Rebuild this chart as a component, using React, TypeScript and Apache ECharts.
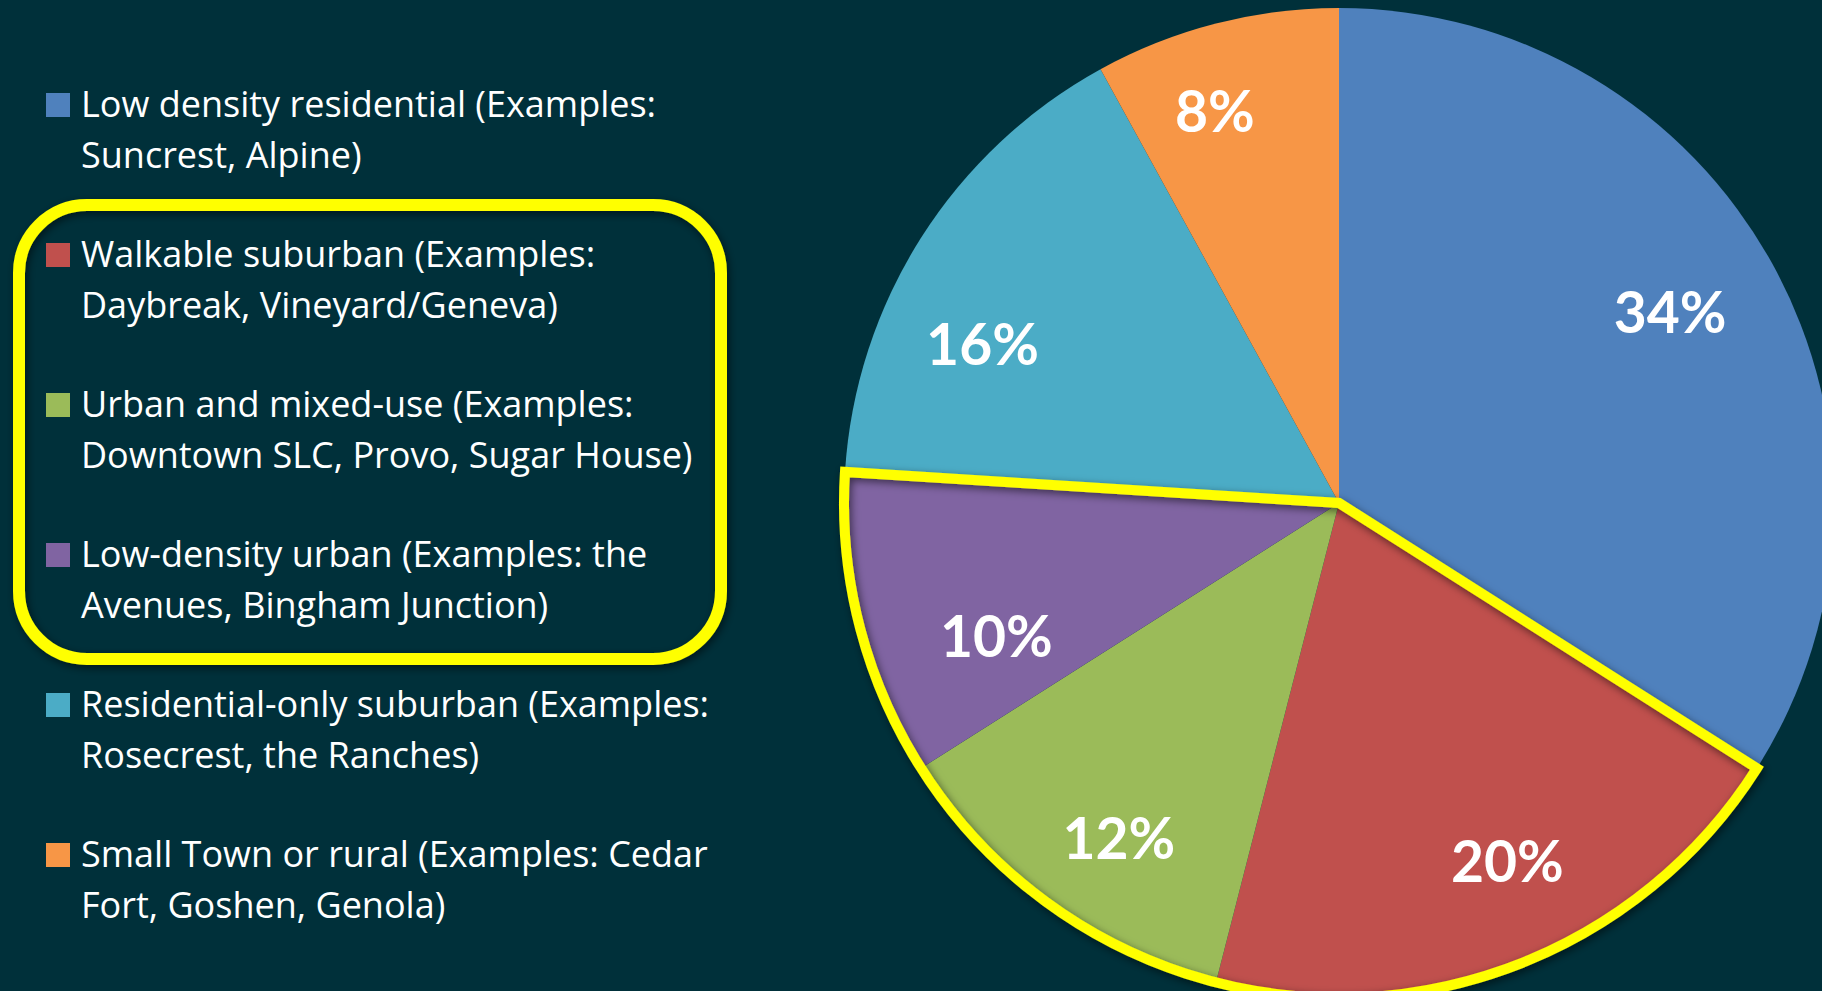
import React, { useEffect, useRef } from "react";
import * as echarts from "echarts";

const categories = [
  "Low density residential (Examples:\nSuncrest, Alpine)",
  "Walkable suburban (Examples:\nDaybreak, Vineyard/Geneva)",
  "Urban and mixed-use (Examples:\nDowntown SLC, Provo, Sugar House)",
  "Low-density urban (Examples: the\nAvenues, Bingham Junction)",
  "Residential-only suburban (Examples:\nRosecrest, the Ranches)",
  "Small Town or rural (Examples: Cedar\nFort, Goshen, Genola)",
];
const shares = [34, 20, 12, 10, 16, 8];
const colors = ["#4F81BD", "#C0504D", "#9BBB59", "#8064A2", "#4BACC6", "#F79646"];
const highlighted = [1, 2, 3];

const BG = "#00303A";
const YELLOW = "#FFFF00";

export default function App() {
  const ref = useRef<HTMLDivElement>(null);
  useEffect(() => {
    document.body.style.margin = "0";
    document.body.style.background = BG;
    if (!ref.current) return;
    const chart = echarts.init(ref.current, null, { renderer: "svg" });

    const cx = 1339;
    const cy = 503;
    const R = 495;

    // small nudges so the in-slice labels sit where the original's best-fit placed them
    const labelNudge = [
      [-15, -2],
      [23, -10],
      [12, 14],
      [40, 34],
      [-23, 52],
      [-26, -10],
    ];

    const first = Math.min(...highlighted);
    const last = Math.max(...highlighted);
    const before = shares.slice(0, first).reduce((a, b) => a + b, 0);
    const mid = shares.slice(first, last + 1).reduce((a, b) => a + b, 0);
    const after = shares.slice(last + 1).reduce((a, b) => a + b, 0);

    const legendGraphics: any[] = [];
    categories.forEach((name, i) => {
      legendGraphics.push({
        type: "rect",
        shape: { x: 46, y: 93 + 150 * i, width: 24, height: 24 },
        style: { fill: colors[i] },
        silent: true,
      });
      legendGraphics.push({
        type: "text",
        x: 81,
        y: 78 + 150 * i,
        style: {
          text: name,
          fill: "#FFFFFF",
          font: "36px 'Open Sans'",
          lineHeight: 51,
          verticalAlign: "top",
          align: "left",
        },
        silent: true,
      });
    });

    chart.setOption({
      animation: false,
      backgroundColor: BG,
      graphic: [
        {
          type: "rect",
          shape: { x: 19, y: 205, width: 702, height: 454, r: 68 },
          style: {
            fill: "none",
            stroke: YELLOW,
            lineWidth: 12,
            shadowBlur: 8,
            shadowColor: "rgba(0,0,0,0.55)",
            shadowOffsetX: 2,
            shadowOffsetY: 3,
          },
          silent: true,
        },
        ...legendGraphics,
      ],
      series: [
        {
          type: "pie",
          center: [cx, cy],
          radius: [0, R],
          startAngle: 90,
          clockwise: true,
          silent: true,
          avoidLabelOverlap: false,
          label: { show: false },
          labelLine: { show: false },
          emphasis: { disabled: true },
          data: shares.map((v, i) => ({
            name: categories[i],
            value: v,
            itemStyle: { color: colors[i] },
          })),
        },
        {
          type: "pie",
          center: [cx, cy],
          radius: [0, R],
          startAngle: 90,
          clockwise: true,
          silent: true,
          avoidLabelOverlap: false,
          label: { show: false },
          labelLine: { show: false },
          emphasis: { disabled: true },
          data: [
            { value: before, itemStyle: { color: "transparent", borderWidth: 0 } },
            {
              value: mid,
              itemStyle: {
                color: "transparent",
                borderColor: YELLOW,
                borderWidth: 10,
                borderJoin: "miter",
                shadowBlur: 8,
                shadowColor: "rgba(0,0,0,0.55)",
                shadowOffsetX: 2,
                shadowOffsetY: 3,
              },
            },
            { value: after, itemStyle: { color: "transparent", borderWidth: 0 } },
          ],
        },
        {
          type: "pie",
          center: [cx, cy],
          radius: [289, R],
          startAngle: 90,
          clockwise: true,
          silent: true,
          avoidLabelOverlap: false,
          itemStyle: { color: "transparent" },
          labelLine: { show: false },
          emphasis: { disabled: true },
          label: {
            show: true,
            position: "inside",
            formatter: "{c}%",
            color: "#FFFFFF",
            fontFamily: "Lato",
            fontWeight: "bold",
            fontSize: 57,
          },
          labelLayout: (params: any) => {
            const n = labelNudge[params.dataIndex] || [0, 0];
            return { dx: n[0], dy: n[1] };
          },
          data: shares.map((v, i) => ({ name: categories[i], value: v })),
        },
      ],
    });
    return () => chart.dispose();
  }, []);
  return <div ref={ref} style={{ width: 1822, height: 991 }} />;
}
